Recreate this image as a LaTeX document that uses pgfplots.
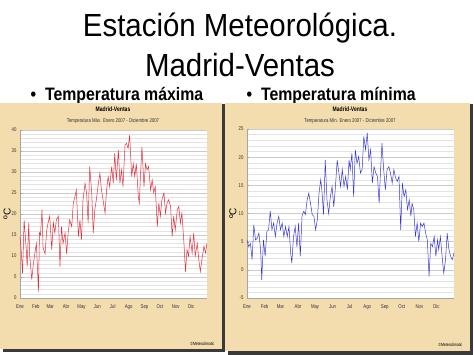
\documentclass[border=0pt]{standalone}
\usepackage{fontspec}
\setmainfont{Liberation Sans}
\newfontfamily\titlefont[FakeStretch=0.92]{Liberation Sans}
\newfontfamily\bulletfont[FakeStretch=0.88]{Liberation Sans}
\newfontfamily\narrowfont[FakeStretch=0.78]{Liberation Sans}
\usepackage{pgfplots}
\pgfplotsset{compat=1.18}
\definecolor{panel}{HTML}{F3DCAE}
\definecolor{shadow}{HTML}{3A3A3A}
\definecolor{redline}{HTML}{E0303E}
\definecolor{blueline}{HTML}{3A3AD0}

\pgfplotstableread{
d t
0 14.6
2 12
5 5.8
8 18.6
12 12
14 7.5
17 17.8
19 10
23 4.4
26 8
30 11.5
32 13
36 1.5
38 15.5
40 15
43 21
45 12
49 10.5
52 16
55 18
58 19.5
62 11.5
65 18
68 15.5
71 18.6
75 19.5
78 7.5
81 17
84 13
88 15.5
91 10.5
94 15.5
97 18.6
101 17
104 22.6
107 24
110 25.7
114 14.6
117 18.6
120 13.9
123 23.4
127 27.3
130 25
133 17.8
136 31.3
140 25
143 15.5
146 21
149 23.4
153 27.3
156 29.7
159 25.7
162 23.4
166 20.2
169 25.7
172 28.9
175 26.5
179 31.3
182 27.3
185 34.5
188 28.1
192 35.2
195 27.3
198 30.5
201 26.5
205 36.5
208 36.8
211 35.6
214 38.8
218 28.9
221 32
224 28.9
227 32
231 24
233 22.6
235 28.9
238 36
242 26.5
245 32
248 30.5
251 31.3
255 25.7
258 28.1
261 25
264 26.5
268 17
271 22.6
274 19.5
277 23.4
281 25
284 20.2
287 22.6
290 23.4
294 21.8
297 14.6
300 19.5
303 16.2
307 21
310 21.8
313 17.8
316 20.2
320 13
323 6.3
326 11.5
329 10
332 14.6
336 10.7
339 15.5
342 10
346 13
349 9.1
352 6.3
355 9.1
359 12.3
362 10.7
365 13
}\maxdata

\pgfplotstableread{
d t
0 5.3
3 4.1
6 4.7
9 1.8
12 8
15 5.3
18 5.6
21 6.5
24 3.6
26 -1.8
29 5.3
32 2.4
35 6.8
38 7.1
41 10.4
44 7.1
47 8.3
50 5.9
53 8.3
56 9.5
59 7.1
62 8.3
65 5.9
68 7.7
71 5.9
74 7.7
77 3
79 1.2
82 5.9
85 7.7
88 4.1
91 8.3
94 2.4
97 9.5
100 10.4
103 9.8
106 12.4
109 13.6
112 11.8
115 9.8
118 9.5
121 7.1
124 8.9
127 13.6
130 16
132 14.2
135 9.8
138 19.5
141 12.4
144 10
147 13
150 14.8
153 11.2
156 14.8
159 19.5
162 17.2
165 14.8
168 17.8
171 14.8
174 16.6
177 14.2
180 19.5
182 17.8
185 20.7
188 13
191 21.3
194 18.9
197 20.1
200 17.2
203 17.8
206 23.7
209 21.3
212 24.3
215 19.5
218 21.3
221 15.4
224 18.3
227 17.2
230 16.6
233 11.8
235 16.6
238 22.5
241 17.8
244 14.2
247 17.8
250 18.3
253 17.2
256 15.4
259 17.8
262 16.3
265 15.7
268 16.6
271 7.1
274 15.4
277 13
280 14.2
283 10.7
286 12.4
289 9.5
291 11.8
294 10.7
297 5.9
300 8.3
303 5
306 8.3
309 7.7
312 8.3
315 6.5
318 5.3
321 -1.2
324 4.7
327 4.1
330 5.9
333 2.4
336 5.3
338 3.6
341 5.9
344 2.4
347 -0.6
350 1.8
353 6.5
356 3.6
359 2.4
362 1.8
365 3
}\mindata

\pgfplotsset{
  chart/.style={
    scale only axis,
    axis background/.style={fill=white},
    xmin=0, xmax=365,
    xtick={0,31,59,90,120,151,181,212,243,273,304,334},
    xticklabels={Ene,Feb,Mar,Abr,May,Jun,Jul,Ago,Sep,Oct,Nov,Dic},
    tick label style={font=\narrowfont\fontsize{5.5}{6}\selectfont, text=black!80},
    /pgf/number format/assume math mode=true,
    axis x line*=bottom, axis y line*=left,
    ymajorgrids, yminorgrids, minor y tick num=4,
    major grid style={gray!40, line width=0.35pt},
    minor grid style={gray!22, line width=0.3pt},
    axis line style={gray!70, line width=0.4pt},
    ytick style={gray!80, line width=0.3pt},
    xtick style={draw=none},
    major tick length=2pt, minor tick length=1.2pt,
    ylabel={ºC},
    ylabel style={font=\narrowfont\fontsize{5.5}{6}\selectfont},
    every axis y label/.style={at={(axis description cs:-0.068,0.5)}, rotate=90, anchor=center},
    xticklabel style={yshift=-3pt},
  }
}

\begin{document}
\begin{tikzpicture}
\fill[white] (0,0) rectangle (474pt,355pt);

% titles
\node[font=\titlefont\fontsize{32}{34}\selectfont, anchor=base] at (240pt,318pt) {Estación Meteorológica.};
\node[font=\titlefont\fontsize{32}{34}\selectfont, anchor=base] at (240pt,278pt) {Madrid-Ventas};
\node[font=\bulletfont\bfseries\fontsize{18}{20}\selectfont, anchor=base west] at (27pt,254pt) {•\hspace{9pt}Temperatura máxima};
\node[font=\bulletfont\bfseries\fontsize{18}{20}\selectfont, anchor=base west] at (243pt,254pt) {•\hspace{9pt}Temperatura mínima};

% panels
\fill[shadow] (3pt,3pt) rectangle (225pt,251pt);
\fill[panel] (0pt,6pt) rectangle (222pt,252pt);
\fill[shadow] (228pt,0pt) rectangle (473pt,251pt);
\fill[panel] (225pt,4pt) rectangle (470pt,252pt);

\node[font=\narrowfont\bfseries\fontsize{6.5}{7}\selectfont] at (113pt,246pt) {Madrid-Ventas};
\node[font=\narrowfont\fontsize{5.5}{6}\selectfont, text=black!80] at (113pt,234pt) {Temperatura Máx. Enero 2007 - Diciembre 2007};
\node[font=\narrowfont\bfseries\fontsize{6.5}{7}\selectfont] at (350pt,246pt) {Madrid-Ventas};
\node[font=\narrowfont\fontsize{5.5}{6}\selectfont, text=black!80] at (350pt,234pt) {Temperatura Mín. Enero 2007 - Diciembre 2007};
\node[font=\narrowfont\fontsize{4.5}{5}\selectfont, anchor=east] at (218pt,11pt) {©Meteoclimatic};
\node[font=\narrowfont\fontsize{4.5}{5}\selectfont, anchor=east] at (466pt,10pt) {©Meteoclimatic};

\begin{axis}[chart, at={(20pt,57pt)}, anchor=south west, width=187pt, height=168pt,
  ymin=0, ymax=40, ytick={0,5,...,40}]
\addplot[redline, line width=0.5pt, mark=none] table[x=d,y=t] {\maxdata};
\end{axis}

\begin{axis}[chart, at={(247pt,57pt)}, anchor=south west, width=207pt, height=169pt,
  ymin=-5, ymax=25, ytick={-5,0,...,25}]
\addplot[blueline, line width=0.5pt, mark=none] table[x=d,y=t] {\mindata};
\end{axis}

\pgfresetboundingbox
\path (0,0) rectangle (474pt,355pt);
\end{tikzpicture}
\end{document}
